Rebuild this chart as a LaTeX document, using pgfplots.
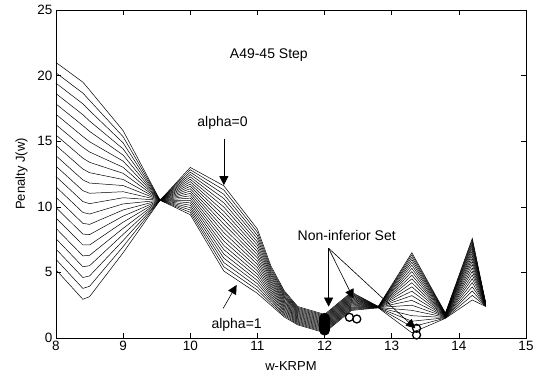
\documentclass[border=0pt]{standalone}
\usepackage{pgfplots}
\pgfplotsset{compat=1.18}
\usepackage{pgfplotstable}
\usepackage{fontspec}
\setmainfont{Liberation Sans}
\usetikzlibrary{arrows.meta}

\pgfplotstableread{
x c0 c1 c2 c3 c4 c5 c6 c7 c8 c9 c10 c11 c12 c13 c14 c15 c16 c17 c18 c19 c20
8.0 21.00 20.21 19.42 18.63 17.84 17.05 16.26 15.47 14.68 13.89 13.10 12.31 11.52 10.73 9.94 9.15 8.36 7.57 6.78 5.99 5.20
8.4 19.50 18.67 17.85 17.02 16.19 15.36 14.54 13.71 12.88 12.05 11.23 10.40 9.57 8.74 7.92 7.09 6.26 5.43 4.61 3.78 2.95
8.5 18.90 18.11 17.33 16.54 15.75 14.96 14.18 13.39 12.60 11.81 11.03 10.24 9.45 8.66 7.88 7.09 6.30 5.51 4.73 3.94 3.15
9.0 15.80 15.34 14.87 14.41 13.94 13.48 13.01 12.55 12.08 11.62 11.15 10.69 10.22 9.76 9.29 8.83 8.36 7.90 7.43 6.97 6.50
9.55 10.5 10.5 10.5 10.5 10.5 10.5 10.5 10.5 10.5 10.5 10.5 10.5 10.5 10.5 10.5 10.5 10.5 10.5 10.5 10.5 10.5
10.0 13.00 12.82 12.64 12.46 12.28 12.10 11.92 11.74 11.56 11.38 11.20 11.02 10.84 10.66 10.48 10.30 10.12 9.94 9.76 9.58 9.40
10.5 11.60 11.28 10.95 10.63 10.30 9.98 9.65 9.33 9.00 8.68 8.35 8.03 7.70 7.38 7.05 6.73 6.40 6.08 5.75 5.43 5.10
11.0 8.30 8.06 7.81 7.57 7.32 7.08 6.83 6.59 6.34 6.10 5.85 5.61 5.36 5.12 4.87 4.63 4.38 4.14 3.89 3.65 3.40
11.2 5.50 5.35 5.20 5.05 4.90 4.75 4.60 4.45 4.30 4.15 4.00 3.85 3.70 3.55 3.40 3.25 3.10 2.95 2.80 2.65 2.50
11.4 3.60 3.50 3.40 3.30 3.20 3.10 3.00 2.90 2.80 2.70 2.60 2.50 2.40 2.30 2.20 2.10 2.00 1.90 1.80 1.70 1.60
11.6 2.40 2.33 2.26 2.19 2.12 2.05 1.98 1.91 1.84 1.77 1.70 1.63 1.56 1.49 1.42 1.35 1.28 1.21 1.14 1.07 1.00
12.0 1.80 1.73 1.66 1.59 1.52 1.45 1.38 1.31 1.24 1.17 1.10 1.03 0.96 0.89 0.82 0.75 0.68 0.61 0.54 0.47 0.40
12.4 3.50 3.43 3.36 3.29 3.22 3.15 3.08 3.01 2.94 2.87 2.80 2.73 2.66 2.59 2.52 2.45 2.38 2.31 2.24 2.17 2.10
12.8 2.40 2.40 2.39 2.39 2.38 2.38 2.37 2.37 2.36 2.36 2.35 2.35 2.34 2.34 2.33 2.33 2.32 2.32 2.31 2.31 2.30
13.3 6.50 6.34 6.16 5.97 5.77 5.55 5.31 5.06 4.79 4.51 4.21 3.90 3.57 3.23 2.87 2.50 2.11 1.70 1.28 0.85 0.40
13.8 1.90 1.88 1.86 1.84 1.82 1.80 1.78 1.76 1.74 1.72 1.70 1.68 1.66 1.64 1.62 1.60 1.58 1.56 1.54 1.52 1.50
14.2 7.60 7.48 7.34 7.19 7.04 6.87 6.68 6.49 6.28 6.07 5.84 5.60 5.34 5.08 4.80 4.52 4.22 3.90 3.58 3.25 2.90
14.4 2.65 2.64 2.63 2.61 2.60 2.59 2.58 2.56 2.55 2.54 2.53 2.51 2.50 2.49 2.48 2.46 2.45 2.44 2.43 2.41 2.40
}\curves

\pgfplotstableread{
x y
12.0 0.60
12.0 0.70
12.0 0.80
12.0 0.90
12.0 1.00
12.0 1.10
12.0 1.20
12.0 1.30
12.0 1.40
12.0 1.50
}\minima

\pgfplotstableread{
x y
12.37 1.58
12.48 1.45
13.37 0.74
13.37 0.23
}\circles

\begin{document}
\begin{tikzpicture}
\begin{axis}[
  scale only axis, width=470pt, height=328pt,
  xmin=8, xmax=15, ymin=0, ymax=25,
  xtick={8,9,...,15}, ytick={0,5,...,25},
  tick align=inside, major tick length=5pt,
  axis line style={line width=0.8pt},
  every tick/.style={black, line width=0.6pt},
  /pgf/number format/assume math mode=true,
  tick label style={font=\fontsize{13.5}{15}\selectfont},
  label style={font=\fontsize{13}{15}\selectfont},
  xlabel={w-KRPM}, ylabel={Penalty J(w)},
  xlabel style={yshift=-4pt},
  ylabel style={yshift=3pt},
  clip=false,
]
\coordinate (sw) at (rel axis cs:0,0);
\coordinate (ne) at (rel axis cs:1,1);
\pgfplotsinvokeforeach{0,...,20}{
  \addplot[black, line width=0.5pt, no marks] table[x=x, y=c#1] {\curves};
}
\addplot[only marks, mark=*, mark size=5pt, mark options={black, line width=0.8pt}] table[x=x, y=y] {\minima};
\addplot[only marks, mark=o, mark size=4pt, mark options={black, line width=1.3pt}] table[x=x, y=y] {\circles};

\node[font=\fontsize{14}{16}\selectfont] at (axis cs:11.17,21.57) {A49-45 Step};
\node[font=\fontsize{14}{16}\selectfont] at (axis cs:10.48,16.36) {alpha=0};
\node[font=\fontsize{14}{16}\selectfont] at (axis cs:10.69,0.99) {alpha=1};
\node[font=\fontsize{14}{16}\selectfont] at (axis cs:12.33,7.85) {Non-inferior Set};

\draw[-{Triangle[width=9pt,length=9pt]}, line width=0.6pt] (axis cs:10.5,15.2) -- (axis cs:10.5,11.65);
\draw[-{Triangle[width=9pt,length=9pt]}, line width=0.6pt] (axis cs:10.49,2.26) -- (axis cs:10.69,4.04);
\draw[-{Triangle[width=9pt,length=9pt]}, line width=0.6pt] (axis cs:12.06,6.84) -- (axis cs:12.06,2.39);
\draw[-{Triangle[width=9pt,length=9pt]}, line width=0.6pt] (axis cs:12.06,6.84) -- (axis cs:12.43,3.02);
\draw[-{Triangle[width=9pt,length=9pt]}, line width=0.6pt] (axis cs:12.06,6.84) -- (axis cs:13.35,0.74);
\end{axis}
\pgfresetboundingbox
\path[use as bounding box] ([shift={(-56pt,-37pt)}]sw) rectangle ([shift={(13pt,10pt)}]ne);
\end{tikzpicture}
\end{document}
